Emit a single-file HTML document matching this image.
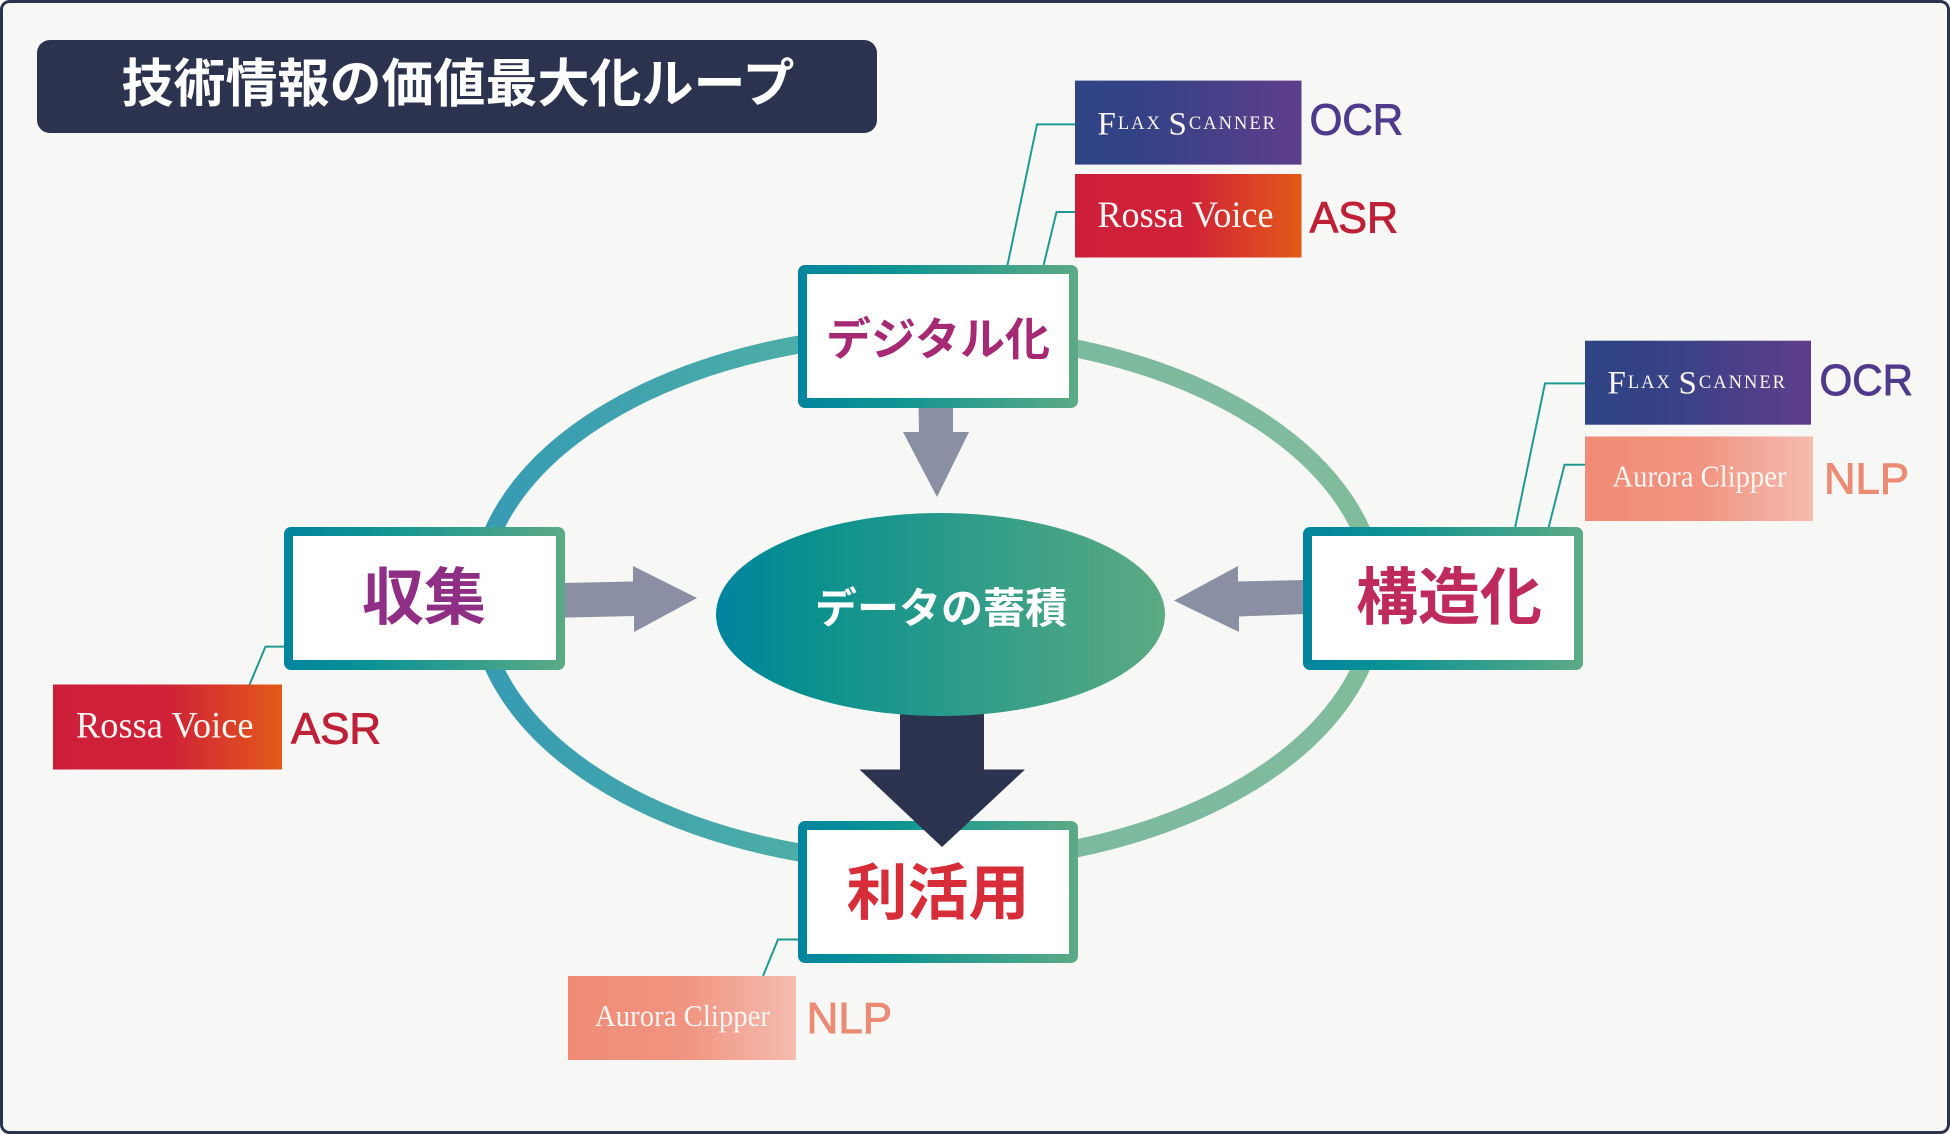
<!DOCTYPE html>
<html lang="ja"><head><meta charset="utf-8"><title>技術情報の価値最大化ループ</title>
<style>
html,body{margin:0;padding:0;background:#fff;width:1950px;height:1134px;overflow:hidden}
svg{display:block}
.jp{font-family:"Liberation Sans","Noto Sans CJK JP",sans-serif;font-weight:700;text-anchor:middle}
.br{font-family:"Liberation Serif",serif;fill:#fdf6f3}
.lb{font-family:"Liberation Sans",sans-serif;font-size:44px;stroke-width:.9px}
</style></head><body>
<svg xmlns="http://www.w3.org/2000/svg" width="1950" height="1134" viewBox="0 0 1950 1134">
<defs>
<linearGradient id="ring" gradientUnits="userSpaceOnUse" x1="478" y1="0" x2="1376" y2="0">
<stop offset="0" stop-color="#369ab4"/><stop offset=".35" stop-color="#4cada6"/><stop offset=".66" stop-color="#7cba9e"/><stop offset="1" stop-color="#80bb9c"/></linearGradient>
<linearGradient id="node" x1="0" y1="0" x2="1" y2="0"><stop offset="0" stop-color="#00859f"/><stop offset=".3" stop-color="#0a9294"/><stop offset="1" stop-color="#5caa85"/></linearGradient>
<linearGradient id="core" x1="0" y1="0" x2="1" y2="0"><stop offset="0" stop-color="#00849f"/><stop offset=".2" stop-color="#08908f"/><stop offset="1" stop-color="#5caa82"/></linearGradient>
<linearGradient id="flax" x1="0" y1="0" x2="1" y2="0"><stop offset="0" stop-color="#2f4485"/><stop offset=".3" stop-color="#344285"/><stop offset="1" stop-color="#5e3e8c"/></linearGradient>
<linearGradient id="rossa" x1="0" y1="0" x2="1" y2="0"><stop offset="0" stop-color="#ce1f3a"/><stop offset=".5" stop-color="#cf2138"/><stop offset="1" stop-color="#e35a18"/></linearGradient>
<linearGradient id="aurora" x1="0" y1="0" x2="1" y2="0"><stop offset="0" stop-color="#f08c76"/><stop offset=".5" stop-color="#f19380"/><stop offset="1" stop-color="#f4bcb0"/></linearGradient>
</defs>
<rect x="1.5" y="1.5" width="1947" height="1131" rx="8" fill="#f7f7f5" stroke="#2b334f" stroke-width="3"/>
<rect x="37" y="40" width="840" height="93" rx="13" fill="#2b334f"/>
<text class="jp" x="458" y="102" font-size="52" fill="#fff">技術情報の価値最大化ループ</text>

<ellipse cx="927.5" cy="598.5" rx="449" ry="265" fill="none" stroke="url(#ring)" stroke-width="18"/>

<g fill="none" stroke="#1f9a93" stroke-width="2">
<polyline points="1007.3,266 1037,124.4 1075,124.4"/>
<polyline points="1043.4,266 1056.5,212 1075,212"/>
<polyline points="1515,528 1545,383.4 1585,383.4"/>
<polyline points="1548,530 1564.5,464.7 1585,464.7"/>
<polyline points="249.4,685 265.5,646.6 285,646.6"/>
<polyline points="763,976 778,939.5 799,939.5"/>
</g>

<g fill="#8a8fa3">
<polygon points="918.5,406 953,406 953,432 969,432 937,497 903,432 919,432"/>
<polygon points="563,583 633,581.5 633,566 697,598 634,632 634,616 563,617.6"/>
<polygon points="1305,580 1238,581.5 1238,566 1174,600.6 1239,632 1239,616.5 1305,614"/>
</g>

<rect x="798" y="265" width="280" height="143" rx="7" fill="url(#node)"/><rect x="807" y="274" width="262" height="124" fill="#fff"/>
<rect x="284" y="527" width="281" height="143" rx="7" fill="url(#node)"/><rect x="293" y="536" width="263" height="124" fill="#fff"/>
<rect x="1303" y="527" width="280" height="143" rx="7" fill="url(#node)"/><rect x="1312" y="536" width="262" height="124" fill="#fff"/>
<rect x="798" y="821" width="280" height="142" rx="7" fill="url(#node)"/><rect x="807" y="830" width="262" height="124" fill="#fff"/>

<polygon points="900,705 984,705 984,769.5 1025,769.5 942,847 859.5,769.5 900,769.5" fill="#2b334f"/>
<ellipse cx="940.5" cy="614.5" rx="224.5" ry="101.5" fill="url(#core)"/>

<text class="jp" x="941" y="623" font-size="42" fill="#fff">データの蓄積</text>
<text class="jp" x="938" y="355" font-size="45" fill="#a52a73">デジタル化</text>
<text class="jp" x="424" y="619" font-size="62" fill="#8e2e85">収集</text>
<text class="jp" x="1449" y="619" font-size="62" fill="#be2a5c">構造化</text>
<text class="jp" x="938" y="914" font-size="61" fill="#d72d38">利活用</text>

<rect x="1075" y="80.6" width="226.5" height="84" fill="url(#flax)"/>
<text class="br" x="1097.5" y="134.5" textLength="177.5" font-size="18.5"><tspan font-size="33">F</tspan><tspan dy="-5.5">LAX </tspan><tspan font-size="33" dy="5.5">S</tspan><tspan dy="-5.5">CANNER</tspan></text>
<rect x="1075" y="174" width="226.5" height="83.5" fill="url(#rossa)"/>
<text class="br" x="1097.5" y="227" font-size="37" textLength="176" lengthAdjust="spacingAndGlyphs">Rossa Voice</text>
<text class="lb" x="1309.6" y="134.5" textLength="93.5" lengthAdjust="spacingAndGlyphs" fill="#4f3a8c" stroke="#4f3a8c">OCR</text>
<text class="lb" x="1309.6" y="232.5" textLength="88.5" lengthAdjust="spacingAndGlyphs" fill="#be2038" stroke="#be2038">ASR</text>

<rect x="1585" y="340.7" width="226" height="84" fill="url(#flax)"/>
<text class="br" x="1607.5" y="393.5" textLength="177.5" font-size="18.5"><tspan font-size="33">F</tspan><tspan dy="-5.5">LAX </tspan><tspan font-size="33" dy="5.5">S</tspan><tspan dy="-5.5">CANNER</tspan></text>
<rect x="1585" y="436.5" width="228" height="84.5" fill="url(#aurora)"/>
<text class="br" x="1612.5" y="486.4" font-size="30.5" textLength="174" lengthAdjust="spacingAndGlyphs">Aurora Clipper</text>
<text class="lb" x="1819.5" y="395" textLength="93.5" lengthAdjust="spacingAndGlyphs" fill="#4f3a8c" stroke="#4f3a8c">OCR</text>
<text class="lb" x="1824" y="493.5" textLength="85" lengthAdjust="spacingAndGlyphs" fill="#eb8b74" stroke="#eb8b74">NLP</text>

<rect x="53" y="684.5" width="229" height="85" fill="url(#rossa)"/>
<text class="br" x="76" y="737.5" font-size="37" textLength="177.5" lengthAdjust="spacingAndGlyphs">Rossa Voice</text>
<text class="lb" x="291" y="743.5" textLength="90" lengthAdjust="spacingAndGlyphs" fill="#be2038" stroke="#be2038">ASR</text>

<rect x="568" y="976" width="228" height="84" fill="url(#aurora)"/>
<text class="br" x="595" y="1026" font-size="30.5" textLength="175" lengthAdjust="spacingAndGlyphs">Aurora Clipper</text>
<text class="lb" x="806.6" y="1033" textLength="85.5" lengthAdjust="spacingAndGlyphs" fill="#eb8b74" stroke="#eb8b74">NLP</text>
</svg>
</body></html>
